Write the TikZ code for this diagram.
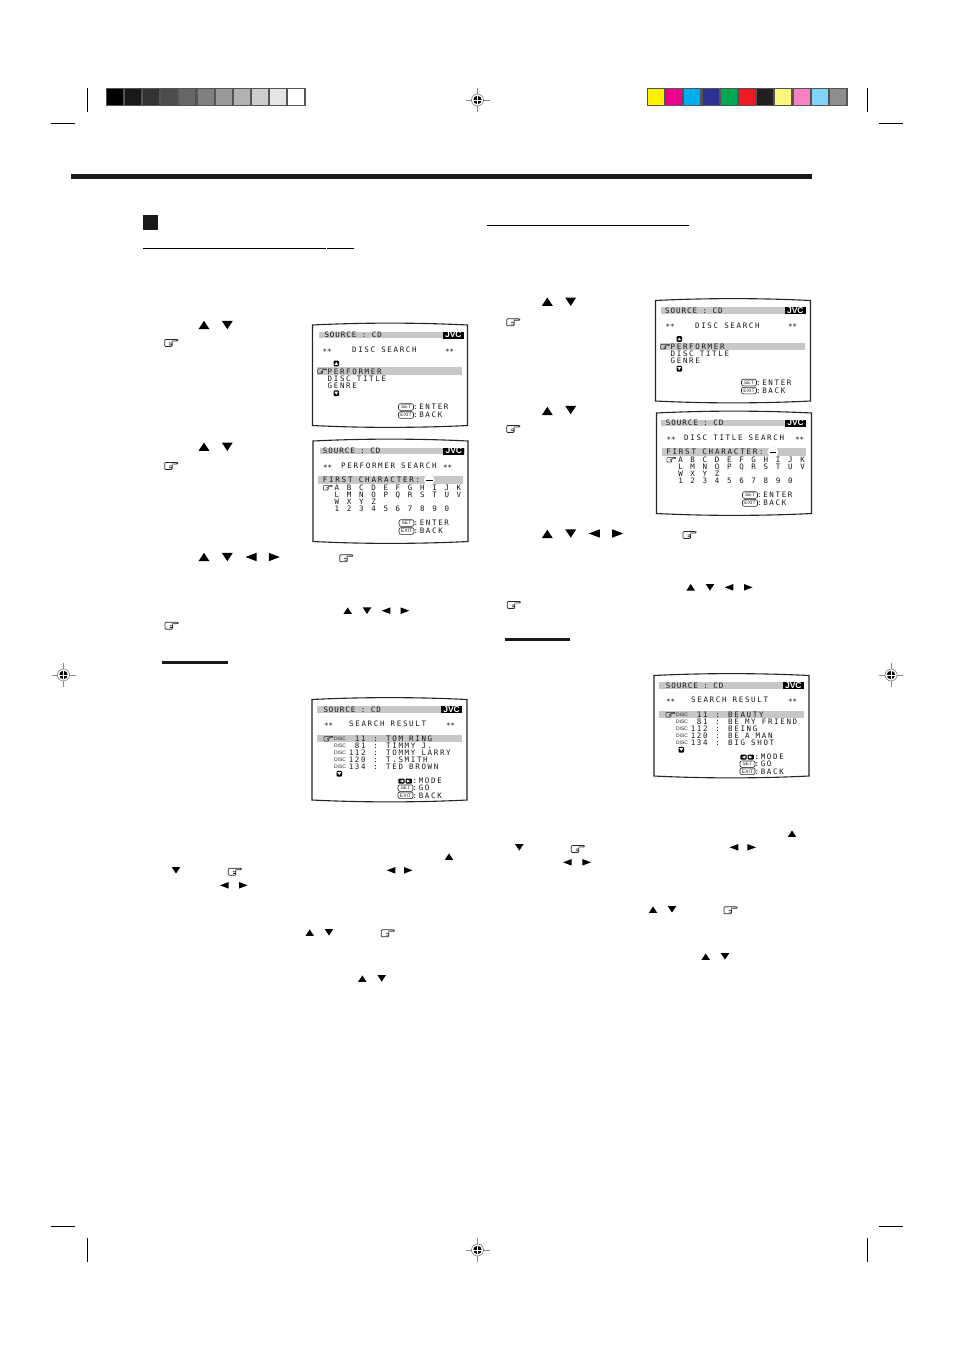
\documentclass[tikz,border=0pt]{standalone}
\usepackage{fontspec}
\newfontfamily\osdfont[LetterSpace=22]{DejaVu Sans Mono}
\newfontfamily\keyfont{Liberation Sans}
\def\upmark[#1](#2,#3)#4{\fill[#1,shift={(#2,#3)},scale=#4] (-5.5,4.2) -- (5.5,4.2) -- (0,-4.2) -- cycle;}
\def\downmark[#1](#2,#3)#4{\fill[#1,shift={(#2,#3)},scale=#4] (-5.5,-4.2) -- (5.5,-4.2) -- (0,4.2) -- cycle;}
\def\leftmark[#1](#2,#3)#4{\fill[#1,shift={(#2,#3)},scale=#4] (5.5,-4.2) -- (5.5,4.2) -- (-5.5,0) -- cycle;}
\def\rightmark[#1](#2,#3)#4{\fill[#1,shift={(#2,#3)},scale=#4] (-5.5,-4.2) -- (-5.5,4.2) -- (5.5,0) -- cycle;}
\def\handmark(#1,#2)#3{\draw[line width=0.7*#3,color=black!85,shift={(#1,#2)},scale=#3,rounded corners=1] (1.5,-1) -- (1.5,3.5) -- (-6,3.5) -- (-6,-3.5) -- (7,-3.5) -- (7,-2) -- (1,-2) (1,0) -- (-1.5,0) (1,1.8) -- (-1.5,1.8);}
\def\regmark(#1,#2){
	\draw[line width=0.6,color=black!45] (#1-12,#2) -- (#1+12,#2) (#1,#2-12) -- (#1,#2+12);
	\draw[line width=0.5,color=black!60,fill=white] (#1,#2) circle (6);
	\fill[black] (#1,#2) circle (4.2);
	\draw[line width=0.8,white] (#1-4.2,#2) -- (#1+4.2,#2) (#1,#2-4.2) -- (#1,#2+4.2);
}
% text on the screens, y is the middle of the capitals
\def\osd#1(#2,#3)#4{\node[osdtext] (#1) at (#2,#3) {#4};}
\def\boxup(#1,#2){\fill[black,rounded corners=1] (#1-2.8,#2-2.8) rectangle (#1+2.8,#2+2.8); \upmark[white](#1,#2){0.35}}
\def\boxdown(#1,#2){\fill[black,rounded corners=1] (#1-2.8,#2-2.8) rectangle (#1+2.8,#2+2.8); \downmark[white](#1,#2){0.35}}
\def\osdhead#1#2{
	\draw[screenline] (0,2) .. controls (50,-0.5) and (105,-0.5) .. (155,2) -- (155,102.5) .. controls (105,105) and (50,105) .. (0,102.5) -- cycle;
	\fill[barfill] (#1,8.6) rectangle (#1+145,15.4);
	\osd{source}(#2,12){\addfontfeature{LetterSpace=13}SOURCE : CD}
	\node[jvclogo,anchor=east] (jvc) at (#1+145,12) {JVC};
}
\def\enterback{
	\node[keybox] (setkey) at (93.5,84) {SET};
	\node[keybox] (exitkey) at (93.5,92) {EXIT};
	\osd{enter}(100.4,84){:ENTER}
	\osd{back}(100.4,92){:BACK}
}
\def\discscreen(#1,#2)(#3,#4)#5{
	\begin{scope}[shift={(#1,#2)},name prefix=#5-]
		\osdhead{#3}{#4}
		\osd{starsa}(9.8,27){\raisebox{-1.3pt}{\stars}}
		\osd{title}(39.4,27){DISC SEARCH}
		\osd{starsb}(132.4,27){\raisebox{-1.3pt}{\stars}}
		\fill[barfill] (4.8,44.2) rectangle (149.6,51.8);
		\boxup(23.8,40.5)
		\handmark(9.2,48.3){0.68}
		\osd{perf}(15,48.3){PERFORMER}
		\osd{dtitle}(15,55.5){DISC TITLE}
		\osd{genre}(15,62.5){GENRE}
		\boxdown(23.8,70.2)
		\enterback
	\end{scope}
}
\def\charscreen(#1,#2)(#3,#4)(#5,#6)#7#8{
	\begin{scope}[shift={(#1,#2)},name prefix=#8-]
		\osdhead{#3}{#4}
		\osd{starsa}(10,27){\raisebox{-1.3pt}{\stars}}
		\osd{title}(#5,27){#7}
		\osd{starsb}(#6,27){\raisebox{-1.3pt}{\stars}}
		\fill[barfill] (5,37) rectangle (149.8,44.6);
		\osd{first}(9.6,40.7){\addfontfeature{LetterSpace=24}FIRST CHARACTER:}
		\draw[line width=0.4,dotted,color=black!50,fill=white] (116.3,41) circle (5.6);
		\draw[line width=0.9] (113,41.7) -- (119.6,41.7);
		\handmark(14.4,48.7){0.68}
		\foreach \row/\y in {{A,B,C,D,E,F,G,H,I,J,K}/48.7,{L,M,N,O,P,Q,R,S,T,U,V}/55.7,{W,X,Y,Z}/62.7,{1,2,3,4,5,6,7,8,9,0}/70}{
			\foreach \c [count=\i from 0] in \row
				\node[osdchar] (ch\c) at (24+12.2*\i,\y) {\c};
		}
		\enterback
	\end{scope}
}
\def\resultscreen(#1,#2)(#3,#4)#5#6{
	\begin{scope}[shift={(#1,#2)},name prefix=#6-]
		\osdhead{#3}{#4}
		\osd{starsa}(12,26.7){\raisebox{-1.3pt}{\stars}}
		\osd{title}(37,26.7){SEARCH RESULT}
		\osd{starsb}(134,26.7){\raisebox{-1.3pt}{\stars}}
		\fill[barfill] (5.2,37.6) rectangle (149.8,44.4);
		\handmark(16,41.2){0.68}
		\foreach \num/\name [count=\j from 0] in {#5}{
			\node[disctag] (tag\j) at (28,41.2+7*\j) {DISC};
			\node[osdtext,anchor=east] (num\j) at (53.8,41.2+7*\j) {\num};
			\osd{colon\j}(61.2,41.2+7*\j){:}
			\osd{name\j}(74,41.2+7*\j){\name}
		}
		\boxdown(27.3,76.2)
		\fill[black,rounded corners=1] (86.4,81) rectangle (92.6,86.2);
		\fill[black,rounded corners=1] (93.6,81) rectangle (99.8,86.2);
		\leftmark[white](89.5,83.6){0.35}
		\rightmark[white](96.7,83.6){0.35}
		\osd{mode}(100.4,83.6){:MODE}
		\node[keybox] (setkey) at (93.5,90.6) {SET};
		\node[keybox] (exitkey) at (93.5,97.8) {EXIT};
		\osd{go}(100.4,90.6){:GO}
		\osd{back}(100.4,97.8){:BACK}
	\end{scope}
}
\def\stars{{\addfontfeature{LetterSpace=0}**}}

\begin{document}
\begin{tikzpicture}[x=1pt,y=-1pt,
	screenline/.style={line width=1.1,color=black!85},
	barfill/.style={fill=black!22},
	osdtext/.style={anchor=west,inner sep=0,text height=5.5,text depth=0,color=black!90,font=\osdfont\fontsize{7.5}{8}\selectfont},
	osdchar/.style={osdtext,anchor=center},
	jvclogo/.style={fill=black,text=white,inner sep=0,minimum width=21,minimum height=7,font=\keyfont\bfseries\fontsize{8.5}{8.5}\selectfont},
	keybox/.style={draw,line width=0.6,rounded corners=2,inner sep=0,minimum width=15,minimum height=6.6,color=black!85,font=\keyfont\fontsize{5}{5}\selectfont},
	disctag/.style={inner sep=0,color=black!85,font=\keyfont\fontsize{5}{5}\selectfont},
	]
	\useasboundingbox (0,0) rectangle (954,1352);
	\fill[white] (0,0) rectangle (954,1352);

	%%%%% PRINTER MARKS %%%%%
	\fill[black!67] (106,88) rectangle (306,106);
	\foreach \g [count=\i from 0] in {100,90,80,70,60,50,40,30,20,10,0}
		\fill[black!\g] (107+18.1*\i,89) rectangle (123+18.1*\i,104.5);
	\fill[black!67] (647,88) rectangle (848,106);
	\foreach \c [count=\i from 0] in {FFF200,EC008C,00AEEF,2E3192,00A651,ED1C24,231F20,FFF67F,F682C4,7FD4F7,8F8E8E}{
		\definecolor{cellcolor}{HTML}{\c}
		\fill[cellcolor] (648+18.2*\i,89) rectangle (664+18.2*\i,104.5);
	}
	\foreach \x in {87.3,867.7}
		\draw[line width=1] (\x,88) -- (\x,112) (\x,1238) -- (\x,1262);
	\foreach \x in {51,879}
		\draw[line width=1] (\x,123) -- (\x+24,123) (\x,1226) -- (\x+24,1226);
	\regmark(477.5,100)
	\regmark(477.5,1250)
	\regmark(63.5,675)
	\regmark(891,675)

	%%%%% RULES %%%%%
	\fill[black!90] (71,174) rectangle (812,179);
	\fill[black!90] (143,215) rectangle (158,230);
	\draw[line width=1] (143,248.4) -- (326,248.4) (327,248.4) -- (354,248.4);
	\draw[line width=1] (487,225.4) -- (689,225.4);
	\fill[black!90] (162,661) rectangle (228,664);
	\fill[black!90] (505,638) rectangle (570,641);

	%%%%% BUTTON MARKS %%%%%
	\foreach \x/\y in {204/325,204/446.7,204/557,547.3/301.7,547.3/411,547.3/534}
		{\upmark[black](\x,\y){1}}
	\foreach \x/\y in {227.3/325,227.3/446.7,227.3/557,570.7/301.7,570.7/410,570.7/533.5}
		{\downmark[black](\x,\y){1}}
	\foreach \x/\y in {251/557,594.3/533.5}
		{\leftmark[black](\x,\y){1}}
	\foreach \x/\y in {274.3/557,617.7/533.5}
		{\rightmark[black](\x,\y){1}}
	\foreach \x/\y in {347.7/610.7,449/856.7,309.7/932.7,362.3/978.7,690.7/587.3,792/833.7,653/909.7,705.7/956.7}
		{\upmark[black](\x,\y){0.78}}
	\foreach \x/\y in {367/610.7,176/870.3,329/932.3,381.7/978.3,710/587.3,519.3/847.3,672/909.3,725/956.3}
		{\downmark[black](\x,\y){0.78}}
	\foreach \x/\y in {386/610.7,391/870.3,224.3/885.3,729/587.3,734/847.3,567.3/862.3}
		{\leftmark[black](\x,\y){0.78}}
	\foreach \x/\y in {405/610.7,408.3/870.3,243.3/885.3,748.3/587.3,751.7/847.3,586.7/862.3}
		{\rightmark[black](\x,\y){0.78}}
	\foreach \x/\y in {170.7/343,170.7/466,345.7/558.3,171/625.7,234.3/871.7,387.3/933.3,512.7/322.3,512.7/429,689/535,513.3/605,577.3/849,730/910.3}
		{\handmark(\x,\y){1}}

	%%%%% SCREENS %%%%%
	\discscreen(312.5,323)(6.5,11.8){discA}
	\charscreen(313,439)(6.5,9.7)(28,130){PERFORMER SEARCH}{charA}
	\resultscreen(312,697.5)(5.3,11.3){11/TOM RING,81/TIMMY J.,112/TOMMY LARRY,120/T.SMITH,134/TED BROWN}{resA}
	\discscreen(655.5,298.5)(5.5,9.5){discB}
	\charscreen(656.5,411)(4.8,9.2)(27.5,138.5){DISC TITLE SEARCH}{charB}
	\resultscreen(654,673.5)(5,11.7){11/BEAUTY,81/BE MY FRIEND,112/BEING,120/BE A MAN,134/BIG SHOT}{resB}
\end{tikzpicture}
\end{document}
